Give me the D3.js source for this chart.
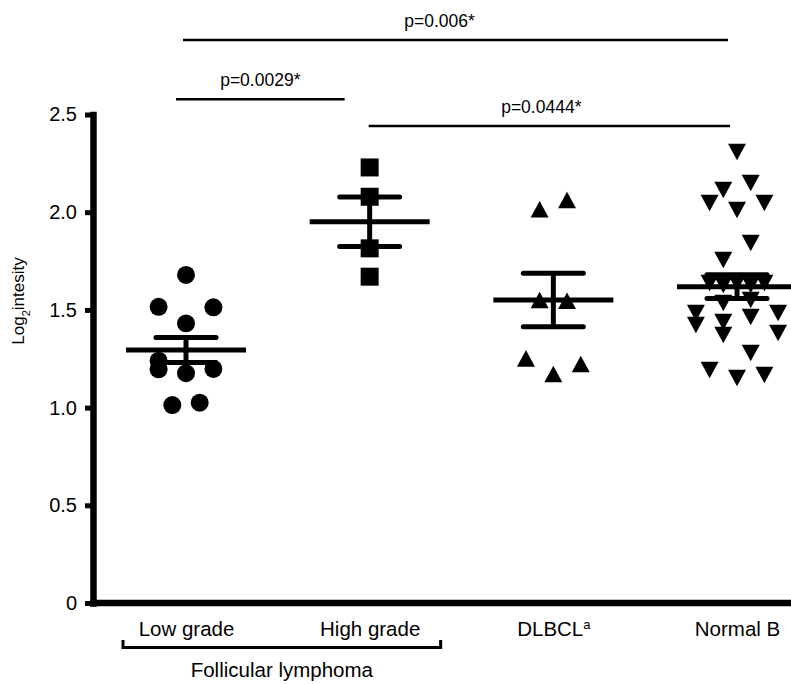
<!DOCTYPE html>
<html>
<head>
<meta charset="utf-8">
<script src="https://cdn.jsdelivr.net/npm/d3@7"></script>
<style>
  body { margin: 0; background: #fff; }
  text { font-family: "Liberation Sans", Arial, Helvetica, sans-serif; fill: #000; }
</style>
</head>
<body>
<div id="chart"></div>
<script>
// groups along the x axis
const categories = ["Low grade", "High grade", "DLBCL", "Normal B"];

// log2 intensity of every sample, one array per group
const lowGrade  = [1.679, 1.516, 1.513, 1.431, 1.240, 1.196, 1.176, 1.198, 1.013, 1.025];
const highGrade = [2.229, 2.079, 1.815, 1.670];
const dlbcl     = [2.015, 2.062, 1.551, 1.547, 1.252, 1.172, 1.223];
const normalB   = [2.308, 2.149, 2.114, 2.047, 2.011, 2.047, 1.842, 1.755,
                   1.638, 1.627, 1.638, 1.627, 1.638, 1.535, 1.551, 1.484,
                   1.423, 1.438, 1.372, 1.464, 1.484, 1.382, 1.279, 1.192,
                   1.151, 1.167];

// column scatter slot of each sample (prism style spreading)
const lowSlots    = [0, -2, 2, 0, -2, -2, 0, 2, -1, 1];
const highSlots   = [0, 0, 0, 0];
const dlbclSlots  = [-1, 1, -1, 1, -2, 0, 2];
const normalSlots = [0, 1, -1, -2, 0, 2, 1, -1, -2, -1, 0, 1, 2, -1, 1, -3,
                     -3, -1, -1, 1, 3, 3, 1, -2, 0, 2];

// mean and SEM per group
const means = [1.295, 1.951, 1.551, 1.619];
const sems  = [0.064, 0.127, 0.137, 0.061];

// y ticks
const yTicks = [0, 0.5, 1.0, 1.5, 2.0, 2.5];
const yTickLabels = ["0", "0.5", "1.0", "1.5", "2.0", "2.5"];

// significance brackets
const pFrom    = ["Low grade", "Low grade", "High grade"];
const pTo      = ["Normal B", "High grade", "Normal B"];
const pLabels  = ["p=0.006*", "p=0.0029*", "p=0.0444*"];
const pHeights = [2.881, 2.578, 2.441];

const groupValues = [lowGrade, highGrade, dlbcl, normalB];
const groupSlots  = [lowSlots, highSlots, dlbclSlots, normalSlots];

const width = 791;
const height = 684;

const svg = d3.select("#chart").append("svg")
    .attr("width", width)
    .attr("height", height);

const axisX = 93;          // y axis position
const xScale = d3.scalePoint()
    .domain(categories)
    .range([186, 737]);

const yScale = d3.scaleLinear()
    .domain([0, 2.5])
    .range([603, 114.5]);

const slotScale = d3.scaleLinear()
    .domain([-1, 1])
    .range([-13.7, 13.7]);

// custom triangles, centered on their bounding box
const triangleUp = {
  draw(context, size) {
    const w = Math.sqrt(size), h = w * 0.92;
    context.moveTo(0, -h / 2);
    context.lineTo(w / 2, h / 2);
    context.lineTo(-w / 2, h / 2);
    context.closePath();
  }
};
const triangleDown = {
  draw(context, size) {
    const w = Math.sqrt(size), h = w * 0.92;
    context.moveTo(0, h / 2);
    context.lineTo(w / 2, -h / 2);
    context.lineTo(-w / 2, -h / 2);
    context.closePath();
  }
};
const shapes = [d3.symbolCircle, d3.symbolSquare, triangleUp, triangleDown];
const shapeSizes = [254, 324, 324, 324];

// ---- y axis
const yAxis = d3.axisLeft(yScale)
    .tickValues(yTicks)
    .tickSize(8)
    .tickSizeOuter(0)
    .tickPadding(8)
    .tickFormat((d, i) => yTickLabels[i]);

const yAxisG = svg.append("g")
    .attr("transform", `translate(${axisX},0)`)
    .call(yAxis);

yAxisG.select(".domain")
    .attr("stroke", "#000")
    .attr("stroke-width", 6.5)
    .attr("stroke-linecap", "square");
yAxisG.selectAll(".tick line")
    .attr("stroke", "#000")
    .attr("stroke-width", 5);
yAxisG.selectAll(".tick text")
    .attr("fill", "#000")
    .style("font-size", "20px")
    .style("font-family", "'Liberation Sans', Arial, Helvetica, sans-serif");

// ---- x axis
svg.append("line")
    .attr("x1", axisX - 3)
    .attr("x2", width)
    .attr("y1", yScale(0))
    .attr("y2", yScale(0))
    .attr("stroke", "#000")
    .attr("stroke-width", 6.5);

const xAxis = d3.axisBottom(xScale).tickSize(0).tickPadding(18);
const xAxisG = svg.append("g")
    .attr("transform", `translate(0,${yScale(0)})`)
    .call(xAxis);
xAxisG.select(".domain").remove();
xAxisG.selectAll(".tick text")
    .attr("fill", "#000")
    .style("font-size", "20.5px")
    .style("font-family", "'Liberation Sans', Arial, Helvetica, sans-serif")
    .each(function(d) {
      if (d === "DLBCL") {
        d3.select(this).text("DLBCL")
          .append("tspan")
          .attr("baseline-shift", "super")
          .style("font-size", "13px")
          .text("a");
      }
    });

// follicular lymphoma bracket
const bx1 = xScale("Low grade") - 63;
const bx2 = xScale("High grade") + 71;
svg.append("path")
    .attr("d", `M${bx1},640 V647.5 H${bx2} V640`)
    .attr("fill", "none")
    .attr("stroke", "#000")
    .attr("stroke-width", 3);

svg.append("text")
    .attr("x", (bx1 + bx2) / 2)
    .attr("y", 677)
    .attr("text-anchor", "middle")
    .style("font-size", "20.5px")
    .text("Follicular lymphoma");

// y axis label
const yLabel = svg.append("text")
    .attr("text-anchor", "middle")
    .attr("transform", "translate(24,301) rotate(-90)")
    .style("font-size", "17px");
yLabel.append("tspan").text("Log");
yLabel.append("tspan").attr("baseline-shift", "sub").style("font-size", "11px").text("2");
yLabel.append("tspan").text("intesity");

// ---- points
const g = svg.append("g");
categories.forEach((cat, i) => {
  const sym = d3.symbol().type(shapes[i]).size(shapeSizes[i]);
  g.selectAll(null)
    .data(groupValues[i])
    .join("path")
      .attr("d", sym)
      .attr("fill", "#000")
      .attr("transform", (d, j) =>
        `translate(${xScale(cat) + slotScale(groupSlots[i][j])},${yScale(d)})`);
});

// ---- mean and SEM
categories.forEach((cat, i) => {
  const cx = xScale(cat);
  const m = means[i], s = sems[i];
  svg.append("line")
      .attr("x1", cx - 60).attr("x2", cx + 60)
      .attr("y1", yScale(m)).attr("y2", yScale(m))
      .attr("stroke", "#000").attr("stroke-width", 5);
  svg.append("line")
      .attr("x1", cx).attr("x2", cx)
      .attr("y1", yScale(m + s)).attr("y2", yScale(m - s))
      .attr("stroke", "#000").attr("stroke-width", 5);
  [m + s, m - s].forEach(v => {
    svg.append("line")
        .attr("x1", cx - 30).attr("x2", cx + 30)
        .attr("y1", yScale(v)).attr("y2", yScale(v))
        .attr("stroke", "#000").attr("stroke-width", 5)
        .attr("stroke-linecap", "round");
  });
});

// ---- significance lines
const pInset = [[-3, -9], [-10, -25], [-1, -7]];
const pTextShift = [-16, 0, -8];
pLabels.forEach((label, i) => {
  const x1 = xScale(pFrom[i]) + pInset[i][0];
  const x2 = xScale(pTo[i]) + pInset[i][1];
  const y = yScale(pHeights[i]);
  svg.append("line")
      .attr("x1", x1).attr("x2", x2)
      .attr("y1", y).attr("y2", y)
      .attr("stroke", "#000").attr("stroke-width", 2.5);
  svg.append("text")
      .attr("x", (x1 + x2) / 2 + pTextShift[i])
      .attr("y", y - 13)
      .attr("text-anchor", "middle")
      .style("font-size", "17.5px")
      .text(label);
});
</script>
</body>
</html>
